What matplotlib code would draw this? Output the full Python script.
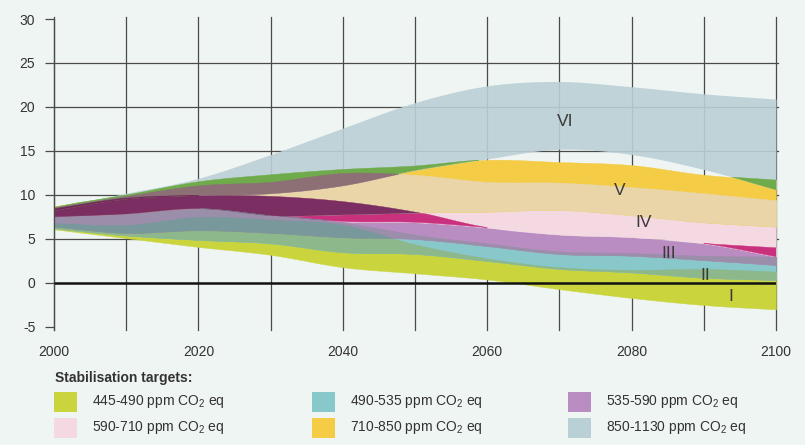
import numpy as np
import matplotlib
matplotlib.use('Agg')
import matplotlib.pyplot as plt
from matplotlib import font_manager as fm
from matplotlib.patches import Rectangle
from itertools import combinations

# ---------------- data (GtC/yr emission ranges) ----------------
years = [2000, 2010, 2020, 2030, 2040, 2050, 2060, 2070, 2080, 2090, 2100]

cat_I_low   = [6.1, 5.1, 4.1, 3.2, 1.8, 1.1, 0.4, -0.7, -1.7, -2.5, -3.0]
cat_I_high  = [6.8, 6.6, 7.5, 7.2, 6.6, 4.4, 2.8, 1.8, 1.5, 1.6, 1.3]
cat_II_low  = [6.2, 5.4, 4.9, 4.5, 3.5, 3.3, 2.5, 1.6, 1.2, 0.6, 0.34]
cat_II_high = [7.6, 7.9, 8.5, 7.7, 6.9, 5.5, 4.5, 3.6, 3.4, 3.1, 3.0]
cat_III_low = [6.4, 5.7, 6.0, 5.7, 5.2, 5.0, 4.2, 3.3, 3.1, 2.6, 2.05]
cat_III_high = [8.5, 9.7, 10.0, 9.9, 9.3, 8.1, 6.3, 5.5, 5.2, 4.5, 4.0]
cat_IV_low  = [7.5, 7.9, 8.5, 7.7, 7.0, 6.9, 6.3, 5.5, 5.2, 4.5, 3.0]
cat_IV_high = [8.6, 9.9, 11.1, 11.5, 12.5, 12.3, 11.5, 11.4, 10.9, 10.2, 9.4]
cat_V_low   = [7.6, 7.9, 8.5, 7.7, 7.8, 8.0, 8.1, 8.3, 7.7, 6.9, 6.4]
cat_V_high  = [8.7, 10.0, 11.5, 12.3, 12.9, 13.3, 14.0, 13.75, 13.4, 12.3, 11.7]
cat_VI_low  = [8.3, 9.6, 10.0, 10.2, 11.1, 12.8, 14.1, 15.2, 14.6, 12.9, 10.6]
cat_VI_high = [8.6, 10.2, 11.9, 14.6, 17.6, 20.5, 22.4, 22.9, 22.3, 21.5, 20.9]

cat_names = ['I', 'II', 'III', 'IV', 'V', 'VI']
legend_labels = ['445-490 ppm CO$_2$ eq', '490-535 ppm CO$_2$ eq', '535-590 ppm CO$_2$ eq',
                 '590-710 ppm CO$_2$ eq', '710-850 ppm CO$_2$ eq', '850-1130 ppm CO$_2$ eq']
legend_title = 'Stabilisation targets:'
x_ticks = [2000, 2020, 2040, 2060, 2080, 2100]
y_ticks = [-5, 0, 5, 10, 15, 20, 25, 30]

# ---------------- style ----------------
single_colors = ['#cad53e', '#88c7ca', '#b98dc2', '#f5d9e2', '#f4cc45', '#bad0d7']
overlap_colors = {
    (0, 1): '#8cb88c', (1, 2): '#9a8eab', (2, 3): '#c9307d', (3, 4): '#e9d5a8',
    (4, 5): '#6fab4a', (0, 1, 2): '#78989c', (2, 3, 4): '#7b2e62',
    (3, 4, 5): '#8c7075', (1, 2, 3): '#8a7a98',
}
BG = '#eff5f2'
TXT = '#333333'
GRID = '#4a4a4a'

names = {f.name for f in fm.fontManager.ttflist}
FONT = 'Liberation Sans Narrow' if 'Liberation Sans Narrow' in names else 'Liberation Sans'
FS = 11.5 if FONT == 'Liberation Sans Narrow' else 10
plt.rcParams['font.family'] = [FONT, 'DejaVu Sans']
plt.rcParams['mathtext.fontset'] = 'custom'
plt.rcParams['mathtext.rm'] = FONT
plt.rcParams['mathtext.it'] = FONT
plt.rcParams['mathtext.bf'] = FONT


def smooth(xk, yk, x):
    xk = np.asarray(xk, float)
    yk = np.asarray(yk, float)
    n = len(xk)
    m = np.zeros(n)
    m[1:-1] = (yk[2:] - yk[:-2]) / (xk[2:] - xk[:-2])
    m[0] = (yk[1] - yk[0]) / (xk[1] - xk[0])
    m[-1] = (yk[-1] - yk[-2]) / (xk[-1] - xk[-2])
    idx = np.clip(np.searchsorted(xk, x, side='right') - 1, 0, n - 2)
    h = xk[idx + 1] - xk[idx]
    t = (x - xk[idx]) / h
    h00 = 2 * t**3 - 3 * t**2 + 1
    h10 = t**3 - 2 * t**2 + t
    h01 = -2 * t**3 + 3 * t**2
    h11 = t**3 - t**2
    return h00 * yk[idx] + h10 * h * m[idx] + h01 * yk[idx + 1] + h11 * h * m[idx + 1]


def color_for(S):
    if len(S) == 1:
        return single_colors[S[0]]
    if S in overlap_colors:
        return overlap_colors[S]
    best = None
    for k in range(len(S) - 1, 0, -1):
        for sub in combinations(S, k):
            if sub in overlap_colors:
                best = overlap_colors[sub]
                break
        if best:
            break
    if best is None:
        best = single_colors[S[0]]
    rgb = np.array(matplotlib.colors.to_rgb(best)) * 0.9
    return tuple(rgb)


W, H = 805, 445
fig = plt.figure(figsize=(W / 100, H / 100), dpi=100, facecolor=BG)
ax = fig.add_axes([54 / W, 1 - 327 / H, (776 - 54) / W, (327 - 19) / H])
ax.set_facecolor(BG)
ax.set_xlim(2000, 2100)
ax.set_ylim(-5, 30)

# grid
for xv in range(2000, 2101, 10):
    ax.plot([xv, xv], [-5.3, 30.2], color=GRID, lw=0.9, zorder=1, clip_on=False)
for yv in [5, 10, 15, 20, 25]:
    ax.plot([2000, 2100.3], [yv, yv], color=GRID, lw=0.9, zorder=1, clip_on=False)

# bands with overlaps
xs = np.linspace(2000, 2100, 801)
lows = [cat_I_low, cat_II_low, cat_III_low, cat_IV_low, cat_V_low, cat_VI_low]
highs = [cat_I_high, cat_II_high, cat_III_high, cat_IV_high, cat_V_high, cat_VI_high]
L = [smooth(years, lo, xs) for lo in lows]
U = [smooth(years, hi, xs) for hi in highs]

for k in range(1, 7):
    for S in combinations(range(6), k):
        lo = np.max([L[i] for i in S], axis=0)
        hi = np.min([U[i] for i in S], axis=0)
        mask = hi > lo + 1e-9
        if not mask.any():
            continue
        c = color_for(S)
        alpha = 0.9 if S == (5,) else 1.0
        ax.fill_between(xs, lo, hi, where=mask, interpolate=True, color=c,
                        lw=0.3 if alpha == 1 else 0, ec=c, alpha=alpha, zorder=2 + k * 0.1)

# zero line
ax.plot([2000, 2100], [0, 0], color='#111111', lw=1.8, zorder=5, solid_capstyle='butt')

# category labels
lab_pos = {'VI': (2070.8, 18.3), 'V': (2078.4, 10.5), 'IV': (2081.7, 6.9),
           'III': (2085.2, 3.3), 'II': (2090.2, 0.9), 'I': (2093.8, -1.5)}
for nm in cat_names:
    ax.text(*lab_pos[nm], nm, ha='center', va='center', fontsize=FS + 2.5, color='#3a3a3a', zorder=6)

# axes styling
for s in ['top', 'right', 'bottom']:
    ax.spines[s].set_visible(False)
ax.spines['left'].set_color(GRID)
ax.spines['left'].set_linewidth(0.9)
ax.spines['left'].set_bounds(-5.3, 30)
ax.set_yticks(y_ticks)
ax.set_yticklabels([str(v) for v in y_ticks])
ax.set_xticks(x_ticks)
ax.set_xticklabels([str(v) for v in x_ticks])
ax.tick_params(axis='y', length=6.5, width=0.9, color=GRID, pad=7, labelsize=FS, labelcolor=TXT)
ax.tick_params(axis='x', length=0, pad=13, labelsize=FS, labelcolor=TXT)

# legend
def fx(px):
    return px / W

def fy(py):
    return 1 - py / H

fig.text(fx(55), fy(378), legend_title, fontsize=FS, fontweight='bold', color=TXT, va='center', ha='left')
col_x = [54, 312, 568]
row_y = [402, 428]
for i, (lab, c) in enumerate(zip(legend_labels, single_colors)):
    r, cidx = divmod(i, 3)
    x0 = col_x[cidx]
    y0 = row_y[r]
    fig.patches.append(Rectangle((fx(x0), fy(y0 + 10)), 23 / W, 20 / H, transform=fig.transFigure,
                                 facecolor=c, edgecolor='none'))
    fig.text(fx(x0 + 38), fy(y0), lab, fontsize=FS, color=TXT, va='center', ha='left')

fig.savefig('out.png', dpi=100, facecolor=BG)
